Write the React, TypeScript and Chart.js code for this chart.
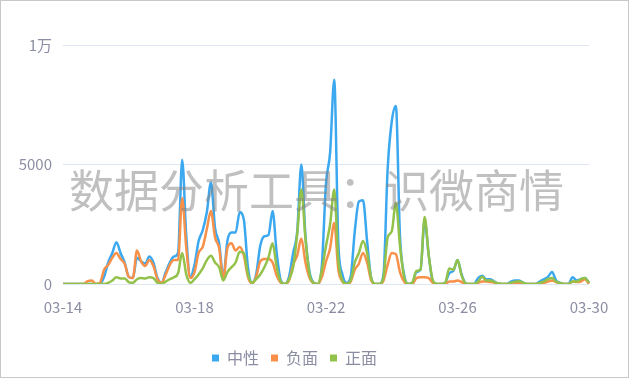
import React, { useEffect, useRef } from 'react';
import { Chart, registerables } from 'chart.js';

Chart.register(...registerables);

// 3-hour samples from 03-14 00:00 to 03-30 00:00 (8 per day)
const tickLabels = ['03-14', '03-18', '03-22', '03-26', '03-30'];
const seriesNames = ['中性', '负面', '正面'];

const neutral = [
  0, 0, 0, 0, 0, 0, 0, 0,
  0, 0, 300, 900, 1300, 1750, 1300, 900,
  300, 250, 1100, 950, 850, 1150, 900, 250,
  50, 500, 900, 1150, 1300, 5200, 2000, 300,
  800, 1800, 2250, 3000, 4250, 2350, 1700, 280,
  1800, 2150, 2150, 3000, 2700, 700, 50, 400,
  1600, 2000, 2050, 3050, 1300, 150, 0, 300,
  1300, 2200, 5000, 2000, 500, 50, 0, 800,
  4200, 5500, 8550, 1700, 400, 50, 300, 2200,
  3450, 3500, 1800, 250, 0, 0, 400, 4800,
  6800, 7450, 2000, 400, 0, 50, 500, 600,
  2650, 1200, 100, 0, 0, 50, 450, 550,
  1000, 400, 30, 0, 0, 250, 350, 200,
  200, 100, 0, 0, 0, 100, 150, 150,
  50, 0, 0, 0, 100, 200, 300, 500,
  150, 50, 0, 0, 280, 150, 200, 250,
  50,
];

const negative = [
  0, 0, 0, 0, 0, 0, 120, 150,
  0, 50, 600, 800, 1100, 1300, 1050, 850,
  300, 250, 1400, 950, 750, 1000, 750, 200,
  50, 400, 800, 1000, 1000, 3600, 1500, 250,
  500, 1300, 1550, 2300, 3050, 1950, 1500, 200,
  1500, 1700, 1400, 1550, 1200, 300, 30, 300,
  950, 1050, 1050, 900, 350, 50, 0, 150,
  800, 1200, 1900, 900, 250, 30, 0, 300,
  950, 1500, 2550, 600, 100, 0, 100, 600,
  850, 1300, 900, 150, 0, 0, 150, 800,
  1300, 1250, 500, 100, 0, 0, 250, 280,
  280, 250, 50, 0, 0, 0, 100, 100,
  150, 80, 0, 0, 0, 50, 100, 100,
  80, 50, 0, 0, 0, 30, 50, 50,
  20, 0, 0, 0, 30, 50, 100, 150,
  80, 20, 0, 0, 100, 80, 100, 200,
  0,
];

const positive = [
  0, 0, 0, 0, 0, 0, 0, 0,
  0, 0, 0, 50, 150, 280, 230, 230,
  80, 50, 200, 250, 230, 280, 250, 50,
  0, 100, 200, 280, 450, 1300, 400, 50,
  200, 400, 650, 1000, 1180, 900, 700, 150,
  500, 700, 900, 1350, 1300, 400, 50, 200,
  400, 700, 1100, 1700, 700, 100, 0, 200,
  700, 2100, 3950, 1900, 400, 50, 0, 600,
  1600, 2500, 3950, 1000, 150, 0, 150, 900,
  1300, 1800, 1300, 250, 0, 0, 300, 1950,
  2200, 3400, 1600, 300, 0, 50, 550, 600,
  2800, 1200, 150, 0, 0, 50, 650, 600,
  1000, 350, 30, 0, 0, 100, 300, 150,
  150, 80, 20, 0, 0, 50, 100, 120,
  50, 0, 0, 0, 50, 100, 200, 250,
  100, 30, 0, 0, 100, 100, 200, 250,
  50,
];

const BLUE = '#3ca8ef';
const ORANGE = '#f7914a';
const GREEN = '#93c24a';
const TEXT = '#8b8ea2';
const FONT = '"Noto Sans CJK SC", "Noto Sans", sans-serif';
const WATERMARK = '数据分析工具：识微商情';

export default function App() {
  const ref = useRef<HTMLCanvasElement>(null);

  useEffect(() => {
    document.body.style.margin = '0';
    const labels = neutral.map((_, i) => String(i));
    const watermark = {
      id: 'watermark',
      afterDatasetsDraw(chart: any) {
        const ctx = chart.ctx;
        ctx.save();
        ctx.font = `45px ${FONT}`;
        ctx.fillStyle = 'rgba(130,130,130,0.5)';
        ctx.textBaseline = 'middle';
        ctx.textAlign = 'left';
        ctx.fillText(WATERMARK, 69, 191);
        ctx.restore();
      },
    };
    const chart = new Chart(ref.current!, {
      type: 'line',
      data: {
        labels,
        datasets: [
          { label: seriesNames[0], data: neutral, borderColor: BLUE, backgroundColor: BLUE, order: 3 },
          { label: seriesNames[1], data: negative, borderColor: ORANGE, backgroundColor: ORANGE, order: 2 },
          { label: seriesNames[2], data: positive, borderColor: GREEN, backgroundColor: GREEN, order: 1 },
        ],
      },
      options: {
        animation: false,
        responsive: false,
        maintainAspectRatio: false,
        elements: {
          point: { radius: 0 },
          line: { borderWidth: 2.5, cubicInterpolationMode: 'monotone', fill: false },
        },
        layout: { padding: { top: 45, right: 41, bottom: 3, left: 0 } },
        scales: {
          x: {
            grid: { display: false, drawTicks: false },
            border: { display: false },
            ticks: {
              autoSkip: false,
              maxRotation: 0,
              padding: 14,
              color: TEXT,
              font: { family: FONT, size: 15 },
              callback: (_v: any, i: number) => (i % 32 === 0 ? tickLabels[i / 32] : ''),
            },
            afterFit: (s: any) => { s.height = 54; },
          },
          y: {
            min: 0,
            max: 10000,
            grid: { color: '#dfe6f3', drawTicks: false },
            border: { display: false },
            ticks: {
              stepSize: 5000,
              padding: 11,
              color: TEXT,
              font: { family: FONT, size: 15 },
              callback: (v: any) => (v === 10000 ? '1万' : String(v)),
            },
            afterFit: (s: any) => { s.width = 63; },
          },
        },
        plugins: {
          legend: {
            position: 'bottom',
            labels: {
              boxWidth: 7,
              boxHeight: 7,
              padding: 12,
              color: TEXT,
              font: { family: FONT, size: 16 },
              generateLabels: (c: any) =>
                Chart.defaults.plugins.legend.labels
                  .generateLabels(c)
                  .map((l: any) => ({ ...l, lineWidth: 0 }))
                  .sort((a: any, b: any) => a.datasetIndex - b.datasetIndex),
            },
          },
          tooltip: { enabled: false },
        },
      },
      plugins: [watermark],
    } as any);
    return () => chart.destroy();
  }, []);

  return (
    <div style={{ position: 'fixed', left: 0, top: 0, width: 630, height: 379, background: '#fff' }}>
      <canvas ref={ref} width={630} height={379} style={{ display: 'block', width: 630, height: 379 }} />
      <div
        style={{
          position: 'absolute', left: 0, top: 0, width: 629, height: 378,
          border: '1px solid #c8c8c8', boxSizing: 'border-box', pointerEvents: 'none',
        }}
      />
    </div>
  );
}
